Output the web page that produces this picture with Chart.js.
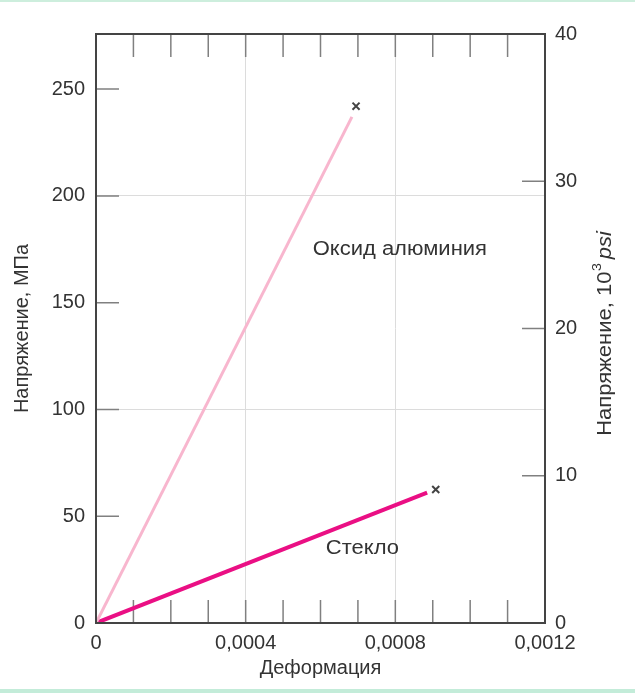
<!DOCTYPE html>
<html>
<head>
<meta charset="utf-8">
<script src="https://cdn.jsdelivr.net/npm/chart.js@4.4.1/dist/chart.umd.min.js"></script>
<style>
  body { margin: 0; background: #fff; }
  #wrap { position: relative; width: 635px; height: 693px; }
  #topStrip { position: absolute; left: 0; top: 0; width: 635px; height: 2px; background: #cdeedd; }
  #bottomStrip { position: absolute; left: 0; top: 689px; width: 635px; height: 4px; background: #c3ecd9; }
</style>
</head>
<body>
<div id="wrap">
  <canvas id="stressChart" width="635" height="693"></canvas>
  <div id="topStrip"></div>
  <div id="bottomStrip"></div>
</div>
<script>
// strain (x) and stress in MPa (y)
const aluminaStrain = [0, 0.000684]
const aluminaStress = [0, 237]
const glassStrain = [0, 0.000885]
const glassStress = [0, 61]

// fracture points (x marks)
const fractureStrain = [0.000695, 0.000908]
const fractureStress = [242, 62.5]

// text labels on the plot
const labelText = ['Оксид алюминия', 'Стекло']
const labelStrain = [0.000812, 0.000712]
const labelStress = [175, 35]

const xTickLabels = ['0', '0,0004', '0,0008', '0,0012']
const ksiMax = 40
const mpaMax = ksiMax * 6.895

const font = 'Liberation Sans, Arial, sans-serif'
const textColor = '#333'
const stretch = 1.1  // the source lettering is a bit wide

function toPoints(xs, ys) {
  return xs.map((x, i) => ({x: x, y: ys[i]}))
}

const inwardTicks = {
  id: 'inwardTicks',
  beforeDatasetsDraw(chart) {
    const {ctx, chartArea: a, scales} = chart
    const len = 23
    ctx.save()
    ctx.strokeStyle = '#808080'
    ctx.lineWidth = 1.5
    ctx.beginPath()
    scales.x.ticks.forEach(t => {
      const px = scales.x.getPixelForValue(t.value)
      ctx.moveTo(px, a.bottom); ctx.lineTo(px, a.bottom - len)
      ctx.moveTo(px, a.top); ctx.lineTo(px, a.top + len)
    })
    scales.y.ticks.forEach(t => {
      const py = scales.y.getPixelForValue(t.value)
      ctx.moveTo(a.left, py); ctx.lineTo(a.left + len, py)
    })
    scales.y2.ticks.forEach(t => {
      const py = scales.y2.getPixelForValue(t.value)
      ctx.moveTo(a.right, py); ctx.lineTo(a.right - len, py)
    })
    ctx.stroke()
    ctx.restore()
  },
  afterDatasetsDraw(chart) {
    const {ctx, chartArea: a, scales} = chart
    ctx.save()
    // frame
    ctx.strokeStyle = '#444'
    ctx.lineWidth = 2
    ctx.strokeRect(a.left, a.top, a.right - a.left, a.bottom - a.top)

    // labels inside plot
    ctx.fillStyle = textColor
    ctx.font = '20px ' + font
    ctx.textAlign = 'center'
    ctx.textBaseline = 'middle'
    labelText.forEach((txt, i) => {
      ctx.save()
      ctx.translate(scales.x.getPixelForValue(labelStrain[i]), scales.y.getPixelForValue(labelStress[i]))
      ctx.scale(stretch, 1)
      ctx.fillText(txt, 0, 0)
      ctx.restore()
    })

    // right axis title: Напряжение, 10^3 psi
    const part1 = 'Напряжение, 10'
    const sup = '3'
    const part2 = 'psi'
    ctx.font = '20px ' + font
    const w1 = ctx.measureText(part1).width
    ctx.font = '13px ' + font
    const ws = ctx.measureText(sup).width
    ctx.font = 'italic 20px ' + font
    const w2 = ctx.measureText(part2).width
    const total = w1 + ws + 4 + w2
    const cx = 605
    const cy = (a.top + a.bottom) / 2 + 5
    ctx.translate(cx, cy)
    ctx.rotate(-Math.PI / 2)
    ctx.scale(stretch, 1)
    ctx.textAlign = 'left'
    ctx.textBaseline = 'middle'
    let x0 = -total / 2
    ctx.font = '20px ' + font
    ctx.fillText(part1, x0, 0)
    x0 += w1
    ctx.font = '13px ' + font
    ctx.fillText(sup, x0 + 0.5, -8)
    x0 += ws + 4
    ctx.font = 'italic 20px ' + font
    ctx.fillText(part2, x0, 0)
    ctx.restore()
  }
}

const ctx = document.getElementById('stressChart').getContext('2d')
new Chart(ctx, {
  type: 'scatter',
  data: {
    datasets: [
      {
        label: 'Оксид алюминия',
        data: toPoints(aluminaStrain, aluminaStress),
        showLine: true,
        borderColor: '#f8b6ce',
        borderWidth: 3,
        pointRadius: 0
      },
      {
        label: 'Стекло',
        data: toPoints(glassStrain, glassStress),
        showLine: true,
        borderColor: '#ea0f84',
        borderWidth: 4,
        pointRadius: 0
      },
      {
        label: 'Разрушение',
        data: toPoints(fractureStrain, fractureStress),
        showLine: false,
        pointStyle: 'crossRot',
        pointRadius: 5,
        borderColor: '#444',
        borderWidth: 2
      }
    ]
  },
  plugins: [inwardTicks],
  options: {
    responsive: false,
    animation: false,
    layout: { padding: { top: 34, left: 0, right: 0, bottom: 0 } },
    plugins: {
      legend: { display: false },
      tooltip: { enabled: false }
    },
    scales: {
      x: {
        type: 'linear',
        position: 'bottom',
        min: 0,
        max: 0.0012,
        afterFit: s => { s.height = 70 },
        border: { display: false },
        grid: {
          drawTicks: false,
          color: c => {
            const k = Math.round(c.tick.value * 10000)
            return (k % 4 === 0 && k > 0 && k < 12) ? '#dcdcdc' : 'rgba(0,0,0,0)'
          }
        },
        ticks: {
          stepSize: 0.0001,
          autoSkip: false,
          maxRotation: 0,
          padding: 8,
          color: textColor,
          font: { family: font, size: 20 },
          callback: v => {
            const k = Math.round(v * 10000)
            return k % 4 === 0 ? xTickLabels[k / 4] : ''
          }
        },
        title: {
          display: true,
          text: 'Деформация',
          color: textColor,
          font: { family: font, size: 20 },
          padding: { top: 0, bottom: 13 }
        }
      },
      y: {
        type: 'linear',
        position: 'left',
        min: 0,
        max: mpaMax,
        afterFit: s => { s.width = 96 },
        border: { display: false },
        grid: {
          drawTicks: false,
          color: c => (c.tick.value === 100 || c.tick.value === 200) ? '#dcdcdc' : 'rgba(0,0,0,0)'
        },
        ticks: {
          stepSize: 50,
          includeBounds: false,
          padding: 11,
          color: textColor,
          font: { family: font, size: 20 }
        },
        title: {
          display: true,
          text: 'Напряжение, МПа',
          color: textColor,
          font: { family: font, size: 20 },
          padding: { top: 10, bottom: 0 }
        }
      },
      y2: {
        type: 'linear',
        position: 'right',
        min: 0,
        max: ksiMax,
        afterFit: s => { s.width = 90 },
        border: { display: false },
        grid: { display: false, drawTicks: false },
        ticks: {
          stepSize: 10,
          padding: 10,
          color: textColor,
          font: { family: font, size: 20 }
        }
      }
    }
  }
})
</script>
</body>
</html>
